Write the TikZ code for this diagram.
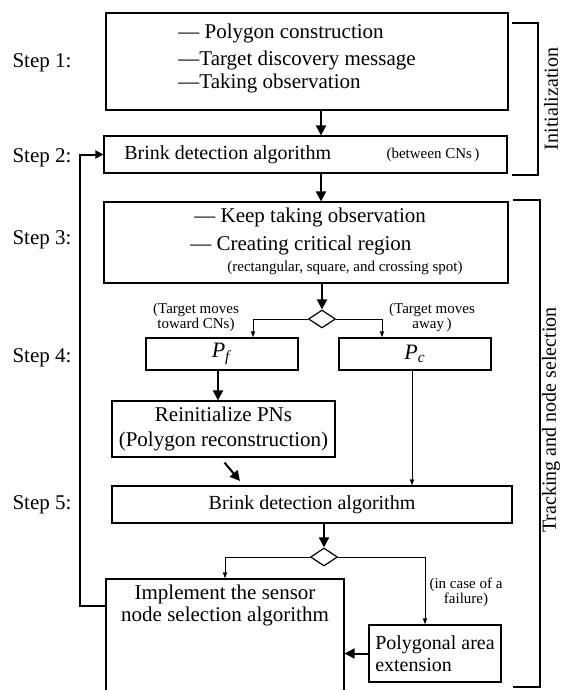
\documentclass[tikz,border=0pt]{standalone}
\usepackage{fontspec}
\setmainfont{Liberation Serif}
\usetikzlibrary{shapes.geometric,arrows.meta,positioning}

\tikzset{
  stage/.style={draw, line width=0.6pt, inner sep=0pt},
  switch/.style={draw, diamond, line width=0.6pt, inner sep=0pt, minimum width=13.5pt, minimum height=9pt},
  flow/.style={line width=1pt, -{Triangle[length=5pt,width=5pt]}},
  branch/.style={line width=0.5pt, -{Triangle[length=3pt,width=2pt]}},
  note/.style={font=\fontsize{7.5}{7.5}\selectfont, align=center, inner sep=0pt},
  item/.style={anchor=west, inner sep=0pt, font=\fontsize{10.5}{12}\selectfont},
  steplbl/.style={font=\fontsize{10.5}{12}\selectfont},
}

\begin{document}
\begin{tikzpicture}[x=0.5pt,y=-0.5pt]
    \useasboundingbox (0,0) rectangle (563,690);
    % step labels
    \node[steplbl] (s1) at (42,63) {Step 1:};
    \node[steplbl] (s2) at (42,158) {Step 2:};
    \node[steplbl] (s3) at (42,240) {Step 3:};
    \node[steplbl] (s4) at (42,358) {Step 4:};
    \node[steplbl] (s5) at (42,505) {Step 5:};
    % initialization
    \node[stage, minimum width=201pt, minimum height=48.5pt] (init) at (307,61.5) {};
    \node[item] (i1) at (178,33) {— Polygon construction};
    \node[item] (i2) at (178,60) {—Target discovery message};
    \node[item] (i3) at (178,83) {—Taking observation};
    \node[stage, minimum width=201.5pt, minimum height=18.5pt] (brink) at (305.5,154.5) {};
    \node[item, font=\fontsize{10}{12}\selectfont] (b1) at (124,154.5) {Brink detection algorithm};
    \node[note] (b2) at (433,155) {(between CNs\,)};
    % tracking
    \node[stage, minimum width=202pt, minimum height=40.5pt] (observe) at (306,242.5) {};
    \node[item] (o1) at (194,217) {— Keep taking observation};
    \node[item] (o2) at (190,245) {— Creating critical region};
    \node[note] (o3) at (345,268) {(rectangular, square, and crossing spot)};
    \node[switch] (split) at (322,319) {};
    \node[note] (toward) at (196,317) {(Target moves\\toward CNs)};
    \node[note] (away) at (432,317) {(Target moves\\away\,)};
    \node[stage, minimum width=76pt, minimum height=16pt] (pf) at (222,354)
        {\fontsize{11}{13}\selectfont\textit{P}\textsubscript{\textit{f}}};
    \node[stage, minimum width=76pt, minimum height=16pt] (pc) at (415,354)
        {\fontsize{11}{13}\selectfont\textit{P}\textsubscript{\textit{c}}};
    \node[stage, minimum width=111.5pt, minimum height=28pt, align=center,
        font=\fontsize{10.5}{12.5}\selectfont] (reinit) at (223.5,429)
        {Reinitialize PNs\\(Polygon reconstruction)};
    \node[stage, minimum width=200pt, minimum height=18.5pt] (brinkb) at (312,504.5)
        {Brink detection algorithm};
    \node[switch] (splitb) at (324,557) {};
    \node[stage, minimum width=119pt, minimum height=70.5pt] (select) at (225,649.5) {};
    \node[align=center, inner sep=0pt, font=\fontsize{10.5}{11}\selectfont,
        below=3pt of select.north] (seltxt) {Implement the sensor\\node selection algorithm};
    \node[stage, minimum width=66pt, minimum height=28.5pt, align=left,
        font=\fontsize{10}{11}\selectfont] (poly) at (435,653.5) {Polygonal area\\extension};
    \node[note] (fail) at (466,592) {(in case of a\\failure)};
    % phase brackets
    \draw[line width=0.6pt] (512,23) -- (538,23) -- (538,175) -- (512,175);
    \draw[line width=0.6pt] (513,200) -- (540,200) -- (540,687) -- (513,687);
    \node[rotate=90] (initlbl) at (551,99) {Initialization};
    \node[rotate=90] (tracklbl) at (551,420) {Tracking and node selection};
    % connectors
    \coordinate (axis) at (321,0);
    \draw[flow] (init.south -| axis) -- (brink.north -| axis);
    \draw[flow] (brink.south -| axis) -- (observe.north -| axis);
    \draw[flow] (observe.south -| split) -- (split.north);
    \draw[branch] (split.west) -| ([xshift=15.5pt]pf.north);
    \draw[branch] (split.east) -| ([xshift=-16.5pt]pc.north);
    \draw[flow] ([xshift=-2pt]pf.south) -- ([xshift=-2pt]pf.south |- reinit.north);
    \draw[branch] ([xshift=-1.5pt]pc.south) -- ([xshift=-1.5pt]pc.south |- brinkb.north);
    \coordinate (slant) at (240,481);
    \draw[flow] ([xshift=0.5pt,yshift=-2.5pt]reinit.south) -- (slant);
    \draw[flow] (brinkb.south -| splitb) -- (splitb.north);
    \draw[branch] (splitb.west) -| (select.north);
    \draw[branch] (splitb.east) -| ([xshift=-5pt]poly.north);
    \draw[flow] (poly.west) -- (poly.west -| select.east);
    \draw[line width=1pt, -{Triangle[length=4pt,width=4pt]}] ([yshift=22pt]select.west) -- ++(-25,0) |- (brink.west);
\end{tikzpicture}
\end{document}
